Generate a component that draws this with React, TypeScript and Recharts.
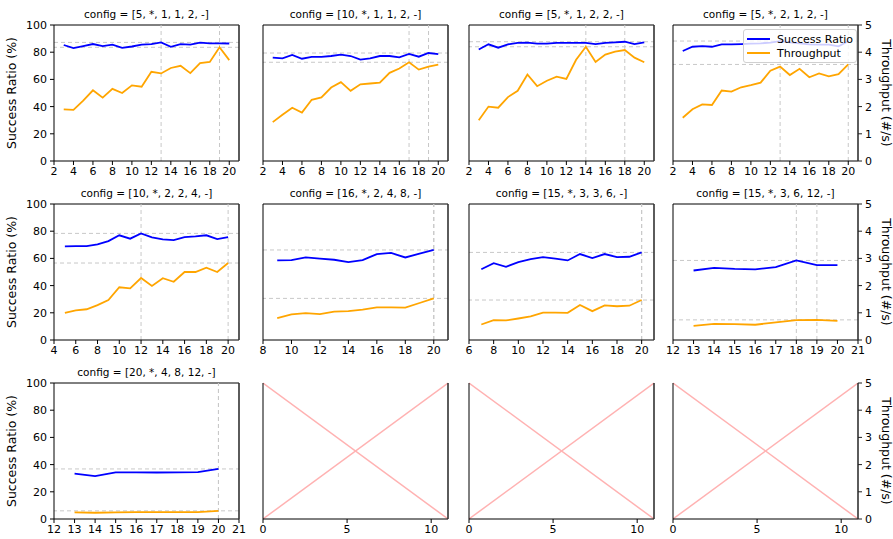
import React from "react"
import { LineChart, Line, XAxis, YAxis, ReferenceLine } from "recharts"

// x values (number of clients)
const xFrom3 = [3, 4, 5, 6, 7, 8, 9, 10, 11, 12, 13, 14, 15, 16, 17, 18, 19, 20]
const xFrom5 = [5, 6, 7, 8, 9, 10, 11, 12, 13, 14, 15, 16, 17, 18, 19, 20]
const xFrom7 = [7, 8, 9, 10, 11, 12, 13, 14, 15, 16, 17, 18, 19, 20]
const xFrom9 = [9, 10, 11, 12, 13, 14, 15, 16, 17, 18, 19, 20]
const xFrom13 = [13, 14, 15, 16, 17, 18, 19, 20]

const titles = [
  "config = [5, *, 1, 1, 2, -]",
  "config = [10, *, 1, 1, 2, -]",
  "config = [5, *, 1, 2, 2, -]",
  "config = [5, *, 2, 1, 2, -]",
  "config = [10, *, 2, 2, 4, -]",
  "config = [16, *, 2, 4, 8, -]",
  "config = [15, *, 3, 3, 6, -]",
  "config = [15, *, 3, 6, 12, -]",
  "config = [20, *, 4, 8, 12, -]",
]

// success ratio (%)
const success1 = [85.3, 83, 84.5, 86, 84.5, 85.5, 83.2, 84.2, 85.6, 86, 87.2, 84, 86, 85.6, 87, 86.5, 86.5, 86.4]
const success2 = [76, 75.5, 78, 75.2, 76.5, 76.5, 77.2, 78.2, 77.2, 74.5, 75.5, 77.2, 77.2, 76.2, 78.7, 76.7, 79.4, 78.6]
const success3 = [82, 85.8, 83.3, 85.8, 86.8, 87, 86.3, 86.3, 86.8, 86.8, 86.8, 86.8, 86, 86.8, 87.2, 87.7, 86, 87.2]
const success4 = [80.9, 84, 84.5, 84, 85.7, 85.8, 86, 86.3, 86.5, 87, 88.2, 87.2, 86.5, 85.8, 85.5, 85.5, 84.3, 88]
const success5 = [68.8, 69, 69, 70.3, 72.7, 77, 74.5, 78.4, 75.4, 74, 73.5, 75.7, 76.2, 77, 74.2, 75.7]
const success6 = [58.5, 58.8, 60.7, 59.8, 59, 57.3, 58.8, 63.2, 64, 60.7, 63.5, 66.2]
const success7 = [52, 56.5, 53.8, 57.3, 59.5, 61, 59.8, 58.5, 63.2, 60.3, 63.2, 61, 61.2, 64.4]
const success8 = [51.1, 53.1, 52.3, 51.9, 53.6, 58.5, 55, 55]
const success9 = [33.3, 31.6, 34.3, 34.3, 34.2, 34.3, 34.4, 36.8]

// throughput (#/s)
const thr1 = [1.9, 1.88, 2.22, 2.6, 2.33, 2.65, 2.5, 2.78, 2.73, 3.28, 3.22, 3.42, 3.5, 3.23, 3.6, 3.64, 4.18, 3.71]
const thr2 = [1.43, 1.7, 1.96, 1.78, 2.25, 2.34, 2.7, 2.9, 2.58, 2.82, 2.85, 2.88, 3.24, 3.4, 3.63, 3.36, 3.47, 3.54]
const thr3 = [1.5, 2.0, 1.96, 2.35, 2.58, 3.18, 2.75, 2.95, 3.1, 3.02, 3.72, 4.2, 3.64, 3.91, 4.02, 4.08, 3.8, 3.63]
const thr4 = [1.59, 1.9, 2.08, 2.06, 2.59, 2.55, 2.71, 2.79, 2.88, 3.32, 3.47, 3.16, 3.39, 3.08, 3.22, 3.11, 3.19, 3.55]
const thr5 = [1.0, 1.09, 1.13, 1.28, 1.47, 1.94, 1.9, 2.28, 1.99, 2.27, 2.14, 2.5, 2.5, 2.66, 2.5, 2.83]
const thr6 = [0.8, 0.94, 0.99, 0.95, 1.04, 1.06, 1.12, 1.2, 1.2, 1.19, 1.36, 1.53]
const thr7 = [0.57, 0.73, 0.72, 0.79, 0.87, 1.01, 1.01, 1.0, 1.29, 1.06, 1.27, 1.24, 1.26, 1.47]
const thr8 = [0.52, 0.59, 0.58, 0.56, 0.65, 0.73, 0.74, 0.7]
const thr9 = [0.24, 0.23, 0.24, 0.25, 0.25, 0.25, 0.25, 0.3]

// tick labels
const ticksEven2 = [2, 4, 6, 8, 10, 12, 14, 16, 18, 20]
const ticksEven4 = [4, 6, 8, 10, 12, 14, 16, 18, 20]
const ticksEven6 = [6, 8, 10, 12, 14, 16, 18, 20]
const ticksEven8 = [8, 10, 12, 14, 16, 18, 20]
const ticksFrom12 = [12, 13, 14, 15, 16, 17, 18, 19, 20, 21]
const ticksEmpty = [0, 5, 10]
const successTicks = [0, 20, 40, 60, 80, 100]
const thrTicks = [0, 1, 2, 3, 4, 5]

// placeholder "X" for the unused slots
const emptyX = [0, 11]
const emptyUp = [0, 5]
const emptyDown = [5, 0]

const FONT = "DejaVu Sans, sans-serif"
const LEFTS = [54, 263, 469, 673]
const TOPS = [25, 204, 383]
const PW = 185
const PH = 136
const YW = 54
const RW = 40
const MT = 25
const XH = 24

type PanelDef = {
  title: string
  x: number[]
  success: number[]
  thr: number[]
  xMin: number
  xMax: number
  ticks: number[]
}

const panels: PanelDef[] = [
  { title: titles[0], x: xFrom3, success: success1, thr: thr1, xMin: 2, xMax: 21, ticks: ticksEven2 },
  { title: titles[1], x: xFrom3, success: success2, thr: thr2, xMin: 2, xMax: 21, ticks: ticksEven2 },
  { title: titles[2], x: xFrom3, success: success3, thr: thr3, xMin: 2, xMax: 21, ticks: ticksEven2 },
  { title: titles[3], x: xFrom3, success: success4, thr: thr4, xMin: 2, xMax: 21, ticks: ticksEven2 },
  { title: titles[4], x: xFrom5, success: success5, thr: thr5, xMin: 4, xMax: 21, ticks: ticksEven4 },
  { title: titles[5], x: xFrom9, success: success6, thr: thr6, xMin: 8, xMax: 21, ticks: ticksEven8 },
  { title: titles[6], x: xFrom7, success: success7, thr: thr7, xMin: 6, xMax: 21, ticks: ticksEven6 },
  { title: titles[7], x: xFrom13, success: success8, thr: thr8, xMin: 12, xMax: 21, ticks: ticksFrom12 },
  { title: titles[8], x: xFrom13, success: success9, thr: thr9, xMin: 12, xMax: 21, ticks: ticksFrom12 },
]

function argmax(arr: number[]) {
  let best = 0
  arr.forEach((v, i) => {
    if (v > arr[best]) best = i
  })
  return best
}

const tickStyle = { fontSize: 11, fill: "#000", fontFamily: FONT }

function Axes({ col, xMin, xMax, ticks }: { col: number; xMin: number; xMax: number; ticks: number[] }) {
  return [
    <XAxis
      key="xb"
      dataKey="x"
      type="number"
      domain={[xMin, xMax]}
      ticks={ticks}
      interval={0}
      allowDataOverflow
      height={XH}
      tickSize={4}
      tickMargin={2}
      tick={tickStyle}
      stroke="#000"
    />,
    <YAxis
      key="yl"
      yAxisId="left"
      domain={[0, 100]}
      ticks={successTicks}
      interval={0}
      width={YW}
      tickSize={4}
      tickMargin={3}
      tick={col === 0 ? tickStyle : false}
      stroke="#000"
    />,
    <YAxis
      key="yr"
      yAxisId="right"
      orientation="right"
      domain={[0, 5]}
      ticks={thrTicks}
      interval={0}
      width={RW}
      tickSize={4}
      tickMargin={3}
      tick={col === 3 ? tickStyle : false}
      stroke="#222"
      axisLine={{ stroke: "#333", strokeWidth: 1.6 }}
    />,
    // top spine
    <ReferenceLine key="top" yAxisId="left" y={100} stroke="#000" strokeWidth={1} />,
  ]
}

function DataPanel({ p, row, col }: { p: PanelDef; row: number; col: number }) {
  const data = p.x.map((x, i) => ({ x, success: p.success[i], thr: p.thr[i] }))
  const iS = argmax(p.success)
  const iT = argmax(p.thr)
  const dash = { stroke: "#c8c8c8", strokeDasharray: "4 3", strokeWidth: 1 }
  return (
    <div style={{ position: "absolute", left: LEFTS[col] - YW, top: TOPS[row] - MT }}>
      <LineChart
        width={YW + PW + RW}
        height={MT + PH + XH}
        data={data}
        margin={{ top: MT, right: 0, bottom: 0, left: 0 }}
      >
        {Axes({ col, xMin: p.xMin, xMax: p.xMax, ticks: p.ticks })}
        <ReferenceLine yAxisId="left" x={p.x[iS]} {...dash} />
        <ReferenceLine yAxisId="left" x={p.x[iT]} {...dash} />
        <ReferenceLine yAxisId="left" y={p.success[iS]} {...dash} />
        <ReferenceLine yAxisId="right" y={p.thr[iT]} {...dash} />
        <Line
          yAxisId="left"
          type="linear"
          dataKey="success"
          stroke="#0000ff"
          strokeWidth={1.8}
          dot={false}
          isAnimationActive={false}
        />
        <Line
          yAxisId="right"
          type="linear"
          dataKey="thr"
          stroke="#ffa500"
          strokeWidth={1.8}
          dot={false}
          isAnimationActive={false}
        />
      </LineChart>
      <div
        style={{
          position: "absolute",
          left: YW,
          top: MT - 17,
          width: PW,
          textAlign: "center",
          fontFamily: FONT,
          fontSize: 10.5,
          lineHeight: "12px",
          color: "#000",
          whiteSpace: "nowrap",
        }}
      >
        {p.title}
      </div>
    </div>
  )
}

function EmptyPanel({ row, col }: { row: number; col: number }) {
  const data = emptyX.map((x, i) => ({ x, up: emptyUp[i], down: emptyDown[i] }))
  return (
    <div style={{ position: "absolute", left: LEFTS[col] - YW, top: TOPS[row] - MT }}>
      <LineChart
        width={YW + PW + RW}
        height={MT + PH + XH}
        data={data}
        margin={{ top: MT, right: 0, bottom: 0, left: 0 }}
      >
        {Axes({ col, xMin: 0, xMax: 11, ticks: ticksEmpty })}
        <Line yAxisId="right" type="linear" dataKey="up" stroke="#ffb2b2" strokeWidth={1.5} dot={false} isAnimationActive={false} />
        <Line yAxisId="right" type="linear" dataKey="down" stroke="#ffb2b2" strokeWidth={1.5} dot={false} isAnimationActive={false} />
      </LineChart>
    </div>
  )
}

function SideLabel({ text, cx, cy, angle }: { text: string; cx: number; cy: number; angle: number }) {
  return (
    <div
      style={{
        position: "absolute",
        left: cx - 80,
        top: cy - 8,
        width: 160,
        height: 16,
        lineHeight: "16px",
        textAlign: "center",
        fontFamily: FONT,
        fontSize: 12.5,
        color: "#000",
        transform: `rotate(${angle}deg)`,
        whiteSpace: "nowrap",
      }}
    >
      {text}
    </div>
  )
}

function LegendBox() {
  const items = [
    { name: "Success Ratio", color: "#0000ff" },
    { name: "Throughput", color: "#ffa500" },
  ]
  return (
    <div
      style={{
        position: "absolute",
        left: 743,
        top: 29,
        width: 112,
        height: 32,
        background: "rgba(255,255,255,0.8)",
        border: "1px solid #d0d0d0",
        borderRadius: 3,
        fontFamily: FONT,
        fontSize: 11,
        color: "#000",
      }}
    >
      {items.map((it, i) => (
        <div key={it.name} style={{ position: "absolute", left: 3, top: 2 + i * 14, height: 14, display: "flex", alignItems: "center" }}>
          <div style={{ width: 23, height: 2, background: it.color, marginRight: 7 }} />
          <span style={{ whiteSpace: "nowrap" }}>{it.name}</span>
        </div>
      ))}
    </div>
  )
}

export default function App() {
  const cells = []
  for (let row = 0; row < 3; row++) {
    for (let col = 0; col < 4; col++) {
      const idx = row * 4 + col
      const p = panels[idx]
      cells.push(
        p ? <DataPanel key={idx} p={p} row={row} col={col} /> : <EmptyPanel key={idx} row={row} col={col} />
      )
    }
  }
  return (
    <div style={{ position: "absolute", left: 0, top: 0, width: 893, height: 539, overflow: "hidden", background: "#fff" }}>
      {cells}
      {TOPS.map((t) => (
        <SideLabel key={"l" + t} text="Success Ratio (%)" cx={12} cy={t + PH / 2} angle={-90} />
      ))}
      {TOPS.map((t) => (
        <SideLabel key={"r" + t} text="Throughput (#/s)" cx={886} cy={t + PH / 2} angle={90} />
      ))}
      <LegendBox />
    </div>
  )
}
